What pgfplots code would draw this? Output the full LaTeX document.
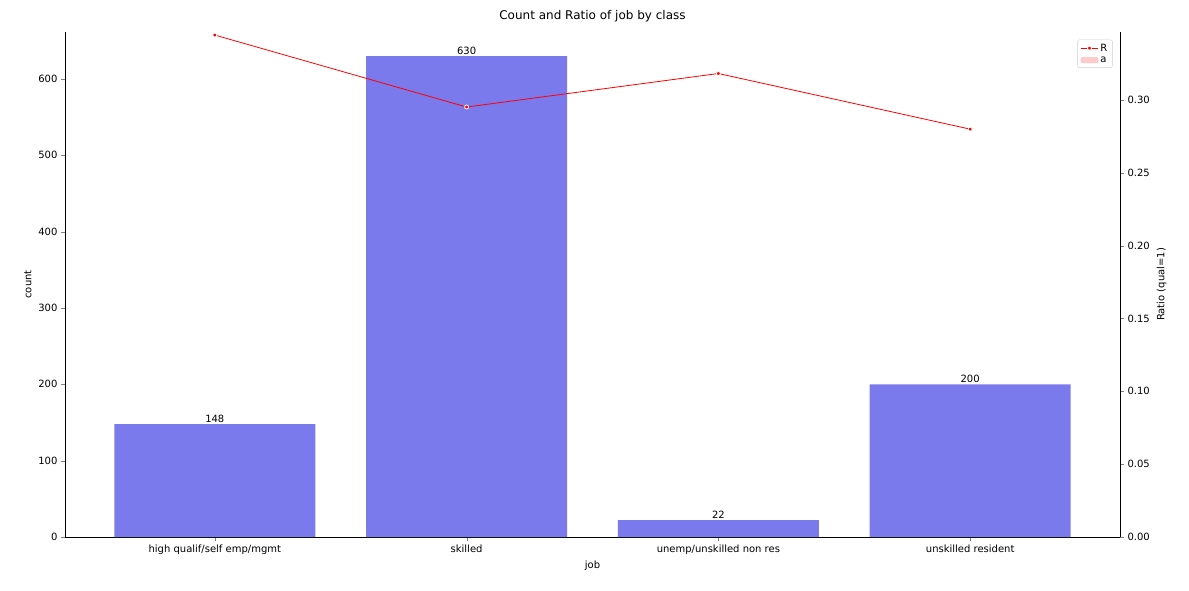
\documentclass[border=0pt]{standalone}
\usepackage{pgfplots}
\pgfplotsset{compat=1.18}
\usepackage{fontspec}
\setmainfont{DejaVu Sans}
\definecolor{barc}{RGB}{122,122,237}
\begin{document}
\begin{tikzpicture}
\path (-65pt,-53pt) rectangle (1124pt,537pt);
\begin{axis}[
  at={(0,0)}, anchor=south west,
  width=1055pt, height=505pt, scale only axis,
  xmin=-0.595, xmax=3.595, ymin=0, ymax=661.5,
  xtick={0,1,2,3},
  xticklabels={high qualif/self emp/mgmt,skilled,unemp/unskilled non res,unskilled resident},
  ytick={0,100,200,300,400,500,600},
  axis y line*=left, axis x line*=bottom,
  xlabel={job}, ylabel={count},
  title={Count and Ratio of job by class},
  tick label style={font=\fontsize{10}{12}\selectfont},
  label style={font=\fontsize{10}{12}\selectfont},
  title style={font=\fontsize{12}{14}\selectfont},
  /pgf/number format/assume math mode=true,
  tick align=outside, major tick length=4pt,
  nodes near coords, nodes near coords style={font=\fontsize{10}{12}\selectfont, yshift=-2pt},
]
\addplot[ybar, bar width=201pt, fill=barc, draw=none] coordinates {(0,148) (1,630) (2,22) (3,200)};
\end{axis}
\begin{axis}[
  at={(0,0)}, anchor=south west,
  width=1055pt, height=505pt, scale only axis,
  xmin=-0.595, xmax=3.595, ymin=0, ymax=0.3467,
  axis y line*=right, axis x line=none,
  ytick={0,0.05,0.1,0.15,0.2,0.25,0.3},
  yticklabel style={/pgf/number format/.cd,fixed,fixed zerofill,precision=2},
  ylabel={Ratio (qual=1)},
  tick label style={font=\fontsize{10}{12}\selectfont},
  label style={font=\fontsize{10}{12}\selectfont},
  /pgf/number format/assume math mode=true,
  tick align=outside, major tick length=4pt,
  legend style={at={(0.993,0.985)}, anchor=north east, font=\fontsize{10}{12}\selectfont, draw=black!20, rounded corners=2pt},
  legend cell align=left,
]
\addplot[red, thick, mark=*, mark options={fill=red, draw=white, scale=1}] coordinates {(0,0.3446) (1,0.2952) (2,0.3182) (3,0.28)};
\addlegendentry{R}
\addlegendimage{area legend, fill=red!20, draw=red!30}
\addlegendentry{a}
\end{axis}
\end{tikzpicture}
\end{document}
